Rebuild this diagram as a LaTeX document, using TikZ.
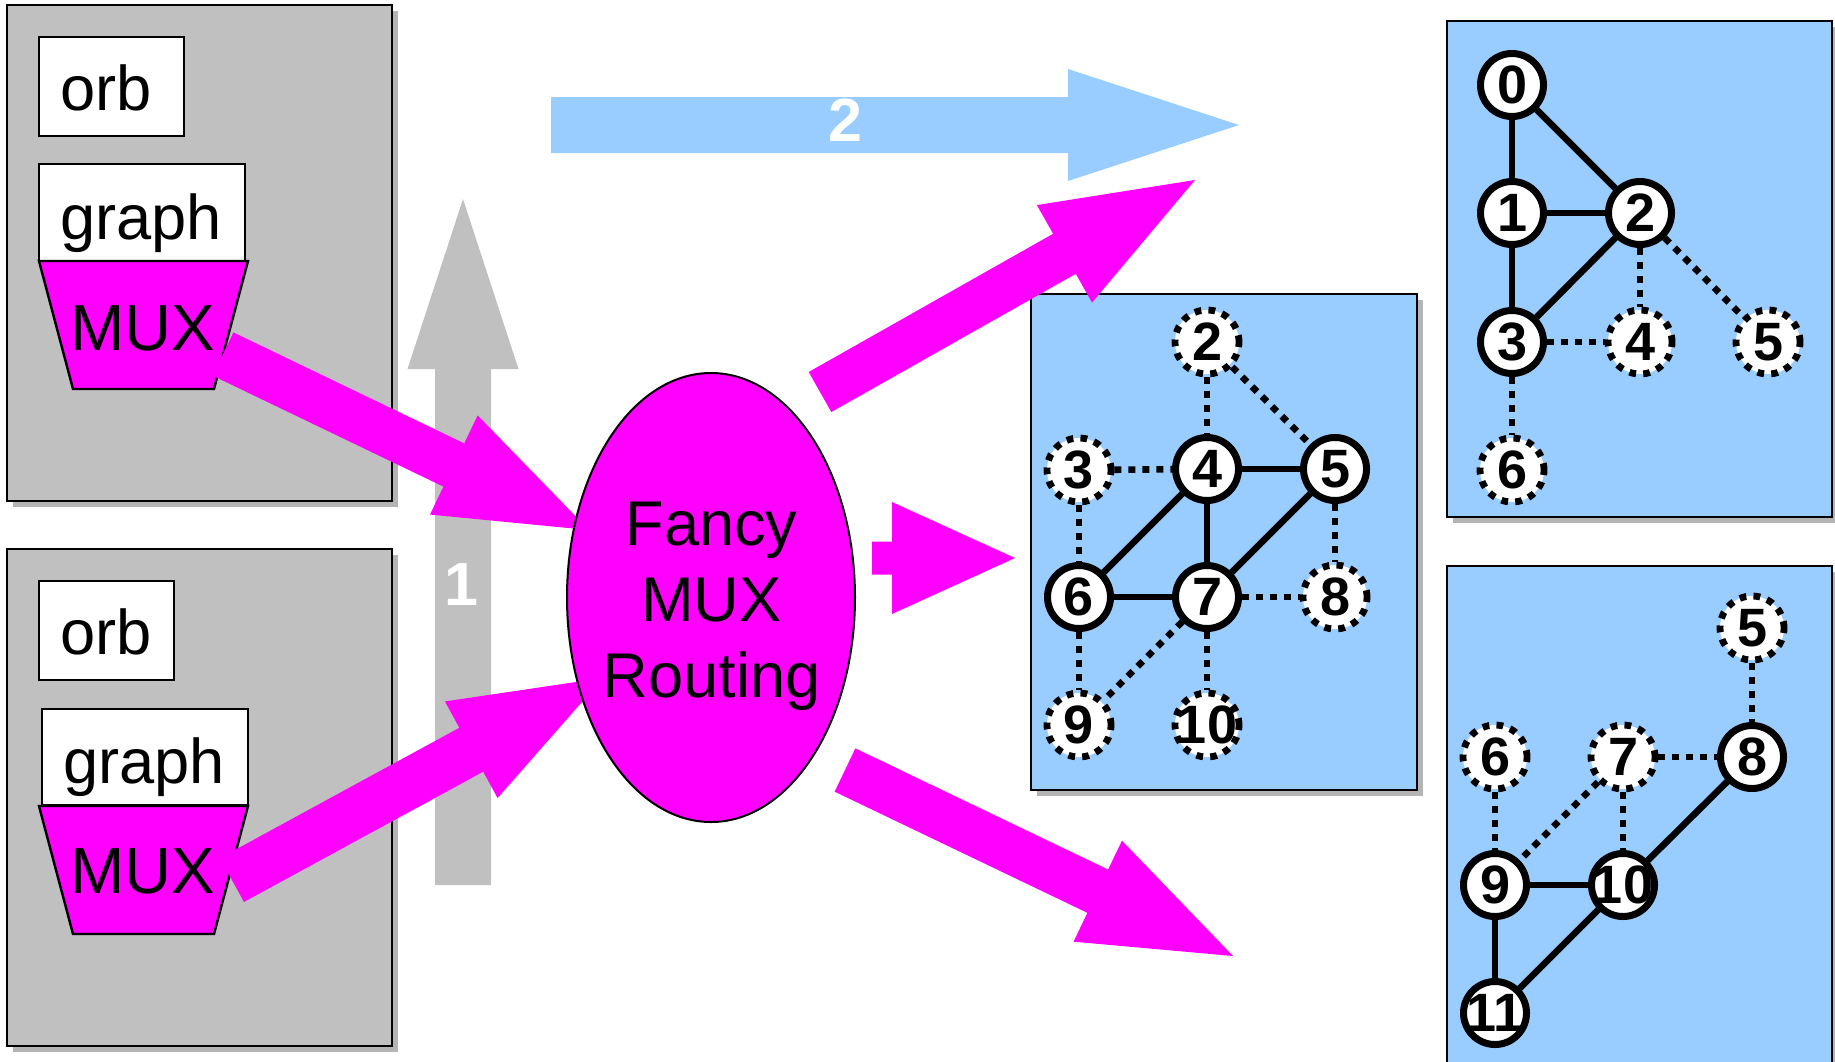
\documentclass[tikz,border=0pt]{standalone}
\usepackage{fontspec}
\setmainfont{Liberation Sans}
\usetikzlibrary{calc,shapes.geometric,shadows}
\pgfdeclarelayer{back}
\pgfdeclarelayer{links}
\pgfsetlayers{back,links,main}

\definecolor{boxgray}{HTML}{C0C0C0}
\definecolor{shadowgray}{HTML}{B4B4B4}
\definecolor{paleblue}{HTML}{99CCFF}
\definecolor{hotpink}{HTML}{FF00FF}

% block arrow: tail, tip, half shaft width, half head width, head length, fill options
\newcommand\blockarrow[6]{%
  \coordinate (#1-base) at ($(#2)!#5!(#1)$);
  \fill[#6] ($(#1)!#3!90:(#2)$) -- ($(#1-base)!#3!-90:(#1)$)
    -- ($(#1-base)!#4!-90:(#1)$) -- (#2)
    -- ($(#1-base)!#4!90:(#1)$) -- ($(#1-base)!#3!90:(#1)$)
    -- ($(#1)!#3!-90:(#2)$) -- cycle;}

\tikzset{
  frame/.style={rectangle, inner sep=0pt, draw=black, line width=1.4pt,
    general shadow={fill=shadowgray, shadow xshift=3pt, shadow yshift=-3pt}},
  graybox/.style={frame, fill=boxgray},
  panel/.style={frame, fill=paleblue},
  whitebox/.style={rectangle, inner sep=0pt, draw=black, line width=1.2pt, fill=white},
  muxshape/.style={fill=hotpink, draw=black, line width=1.2pt},
  big/.style={inner sep=0pt, font=\fontsize{31.6pt}{38pt}\selectfont},
  muxtext/.style={inner sep=0pt, font=\fontsize{32.6pt}{38pt}\selectfont},
  bignum/.style={inner sep=0pt, text=white, font=\fontsize{30.5pt}{36pt}\selectfont\bfseries},
  num/.style={inner sep=0pt, font=\fontsize{27pt}{30pt}\selectfont\bfseries},
  vsolid/.style={circle, inner sep=0pt, draw=black, fill=white, line width=3.5pt, minimum size=31.5pt},
  vghost/.style={circle, inner sep=0pt, draw=black, fill=white, line width=3.4pt,
    dash pattern=on 3.4pt off 3.6pt, minimum size=32pt},
  tie/.style={line width=3.3pt},
  maybe/.style={line width=3.3pt, dash pattern=on 3.5pt off 3.5pt},
}

\begin{document}
\begin{tikzpicture}[x=0.5pt,y=-0.5pt]
\useasboundingbox (0,0) rectangle (1835,1061);
\clip (0,0) rectangle (1835,1061);

% hosts and graph panels
\begin{pgfonlayer}{back}
  \node[graybox, minimum width=192.5pt, minimum height=248pt] (hostA) at (199.5,253) {};
  \node[graybox, minimum width=192.5pt, minimum height=248.5pt] (hostB) at (199.5,797.5) {};
  \node[panel, minimum width=193pt, minimum height=248pt] (midpanel) at (1224,542) {};
  \node[panel, minimum width=192.5pt, minimum height=248pt] (toppanel) at (1639.5,269) {};
  \node[panel, minimum width=192.5pt, minimum height=255pt] (lowpanel) at (1639.5,821) {};
\end{pgfonlayer}

% upper host
\node[whitebox, minimum width=72.5pt, minimum height=49.5pt] (orbA) at (111.5,86.5) {};
\node[big, anchor=base west] (orbAtxt) at (60,110) {orb};
\node[whitebox, minimum width=103pt, minimum height=48.5pt] (graphA) at (142,212.5) {};
\node[big, anchor=base west] (graphAtxt) at (60,239) {graph};
\draw[muxshape] (39,261) -- (248,261) -- (214,389) -- (73,389) -- cycle;

% lower host
\node[whitebox, minimum width=67.5pt, minimum height=49.5pt] (orbB) at (106.5,630.5) {};
\node[big, anchor=base west] (orbBtxt) at (60,654) {orb};
\node[whitebox, minimum width=103pt, minimum height=48pt] (graphB) at (145,757) {};
\node[big, anchor=base west] (graphBtxt) at (63,783) {graph};
\draw[muxshape] (39,806) -- (248,806) -- (214,934) -- (73,934) -- cycle;

% step arrows
\coordinate (upT) at (463,885);  \coordinate (upH) at (463,199);
\coordinate (rtT) at (551,125);  \coordinate (rtH) at (1239,125);
\blockarrow{upT}{upH}{14pt}{27.75pt}{85pt}{boxgray}
\blockarrow{rtT}{rtH}{14pt}{28pt}{85.5pt}{paleblue}
\node[bignum, anchor=base] (stepone) at (461,605) {1};
\node[bignum, anchor=base] (steptwo) at (845,141) {2};

% routing arrows
\coordinate (inAT) at (223,354);   \coordinate (inAH) at (589,530);
\coordinate (inBT) at (232,880);   \coordinate (inBH) at (603,678);
\coordinate (outAT) at (820,392);  \coordinate (outAH) at (1195,180);
\coordinate (outBT) at (872,558);  \coordinate (outBH) at (1015,558);
\coordinate (outCT) at (845,770);  \coordinate (outCH) at (1233,956);
\blockarrow{inAT}{inAH}{12pt}{27.5pt}{75pt}{hotpink}
\blockarrow{inBT}{inBH}{12.5pt}{27.5pt}{75pt}{hotpink}
\blockarrow{outAT}{outAH}{11.5pt}{28pt}{75pt}{hotpink}
\blockarrow{outBT}{outBH}{8.25pt}{28pt}{61.5pt}{hotpink}
\blockarrow{outCT}{outCH}{12pt}{28pt}{75pt}{hotpink}

\node[muxtext, anchor=base west] (muxAtxt) at (70,350) {MUX};
\node[muxtext, anchor=base west] (muxBtxt) at (70,893) {MUX};

% router
\node[ellipse, inner sep=0pt, draw=black, line width=1pt, fill=hotpink,
      minimum width=144pt, minimum height=224.5pt] (router) at (711,597.5) {};
\node[big, anchor=base] (routerA) at (711.5,545) {Fancy};
\node[big, anchor=base] (routerB) at (711.5,621) {MUX};
\node[big, anchor=base] (routerC) at (711.5,697) {Routing};

% middle graph
\node[vghost, label={[num]center:2}] (m2) at (1207,342) {};
\node[vghost, label={[num]center:3}] (m3) at (1079,470) {};
\node[vsolid, label={[num]center:4}] (m4) at (1207,469) {};
\node[vsolid, label={[num]center:5}] (m5) at (1335,469) {};
\node[vsolid, label={[num]center:6}] (m6) at (1079,597) {};
\node[vsolid, label={[num]center:7}] (m7) at (1207,597) {};
\node[vghost, label={[num]center:8}] (m8) at (1335,597) {};
\node[vghost, label={[num]center:9}] (m9) at (1079,725) {};
\node[vghost, label={[num]center:10}] (m10) at (1207,725) {};

% upper right graph
\node[vsolid, label={[num]center:0}] (t0) at (1512,85) {};
\node[vsolid, label={[num]center:1}] (t1) at (1512,213) {};
\node[vsolid, label={[num]center:2}] (t2) at (1640,213) {};
\node[vsolid, label={[num]center:3}] (t3) at (1512,342) {};
\node[vghost, label={[num]center:4}] (t4) at (1640,342) {};
\node[vghost, label={[num]center:5}] (t5) at (1768,342) {};
\node[vghost, label={[num]center:6}] (t6) at (1512,470) {};

% lower right graph
\node[vghost, label={[num]center:5}] (b5) at (1752,628) {};
\node[vghost, label={[num]center:6}] (b6) at (1495,757) {};
\node[vghost, label={[num]center:7}] (b7) at (1623,757) {};
\node[vsolid, label={[num]center:8}] (b8) at (1752,757) {};
\node[vsolid, label={[num]center:9}] (b9) at (1495,885) {};
\node[vsolid, label={[num]center:10}] (b10) at (1623,885) {};
\node[vsolid, label={[num]center:11}] (b11) at (1495,1013) {};

\begin{pgfonlayer}{links}
  \draw[tie] (m4) -- (m5);  \draw[tie] (m4) -- (m6);  \draw[tie] (m4) -- (m7);
  \draw[tie] (m5) -- (m7);  \draw[tie] (m6) -- (m7);
  \draw[maybe] (m2) -- (m4);  \draw[maybe] (m2) -- (m5);  \draw[maybe] (m3) -- (m4);
  \draw[maybe] (m3) -- (m6);  \draw[maybe] (m5) -- (m8);  \draw[maybe] (m7) -- (m8);
  \draw[maybe] (m6) -- (m9);  \draw[maybe] (m7) -- (m9);  \draw[maybe] (m7) -- (m10);

  \draw[tie] (t0) -- (t1);  \draw[tie] (t0) -- (t2);  \draw[tie] (t1) -- (t2);
  \draw[tie] (t1) -- (t3);  \draw[tie] (t2) -- (t3);
  \draw[maybe] (t2) -- (t4);  \draw[maybe] (t2) -- (t5);
  \draw[maybe] (t3) -- (t4);  \draw[maybe] (t3) -- (t6);

  \draw[tie] (b8) -- (b10);  \draw[tie] (b9) -- (b10);
  \draw[tie] (b9) -- (b11);  \draw[tie] (b10) -- (b11);
  \draw[maybe] (b5) -- (b8);  \draw[maybe] (b7) -- (b8);  \draw[maybe] (b6) -- (b9);
  \draw[maybe] (b7) -- (b9);  \draw[maybe] (b7) -- (b10);
\end{pgfonlayer}
\end{tikzpicture}
\end{document}
